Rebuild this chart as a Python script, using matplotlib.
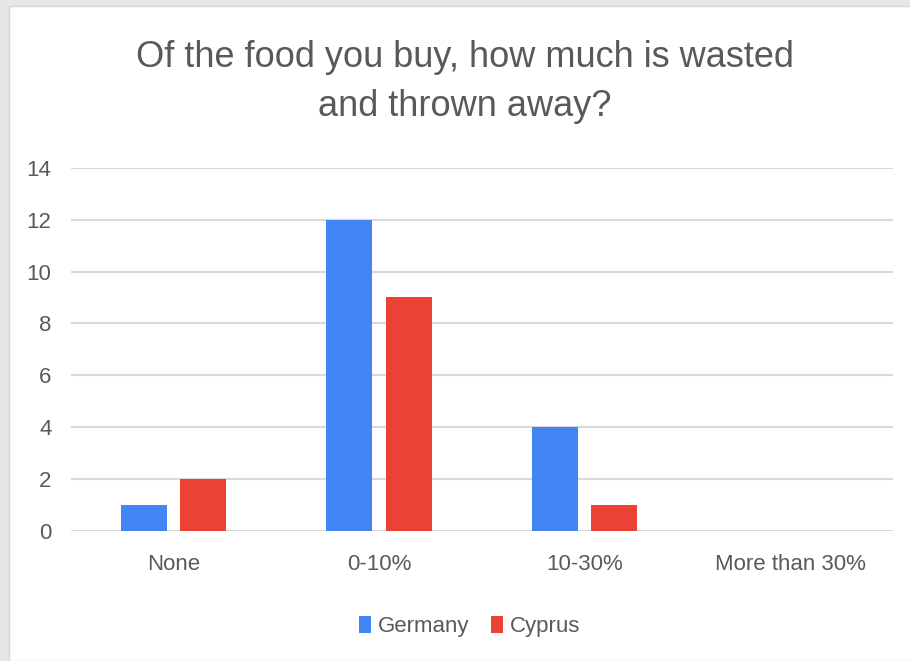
import numpy as np
import matplotlib
matplotlib.use('Agg')
import matplotlib.pyplot as plt
from matplotlib.patches import Rectangle

plt.rcParams['font.family'] = ['Liberation Sans', 'DejaVu Sans']

# data
categories = ['None', '0-10%', '10-30%', 'More than 30%']
germany = [1, 12, 4, 0]
cyprus = [2, 9, 1, 0]
yticks = [0, 2, 4, 6, 8, 10, 12, 14]

fig = plt.figure(figsize=(9.1, 6.61), dpi=100)
fig.patch.set_facecolor('#e6e6e6')
# white panel inside the grey frame (frame only on top and left)
fig.patches.append(Rectangle((9 / 910, 0), 1, 1 - 6 / 661,
                             transform=fig.transFigure, facecolor='white',
                             edgecolor='#d6d6d6', lw=1, zorder=-5))

ax = fig.add_axes([0.078, 0.197, 0.903, 0.549])
ax.set_facecolor('none')

x = np.arange(len(categories))
w = 0.224
ax.bar(x - 0.145, germany, w, color='#4285F4', label='Germany', zorder=3)
ax.bar(x + 0.145, cyprus, w, color='#EA4335', label='Cyprus', zorder=3)

ax.set_xlim(-0.5, 3.5)
ax.set_ylim(0, 14)
ax.set_yticks(yticks)
ax.set_xticks(x)
ax.set_xticklabels(categories)
ax.grid(axis='y', color='#d9d9d9', lw=1.5, zorder=0)
ax.set_axisbelow(True)
for s in ax.spines.values():
    s.set_visible(False)
ax.tick_params(length=0, labelsize=16, labelcolor='#595959')
ax.tick_params(axis='y', pad=14)
ax.tick_params(axis='x', pad=17)

fig.text(0.511, 0.876, 'Of the food you buy, how much is wasted\nand thrown away?',
         ha='center', va='center', fontsize=26, color='#595959', linespacing=1.55)

ax.legend(loc='center', bbox_to_anchor=(0.485, -0.263), ncol=2, frameon=False,
          fontsize=16, labelcolor='#595959', handlelength=0.55, handleheight=0.8,
          handletextpad=0.3, columnspacing=1.0)

fig.savefig('out.png', dpi=100, facecolor=fig.get_facecolor())
